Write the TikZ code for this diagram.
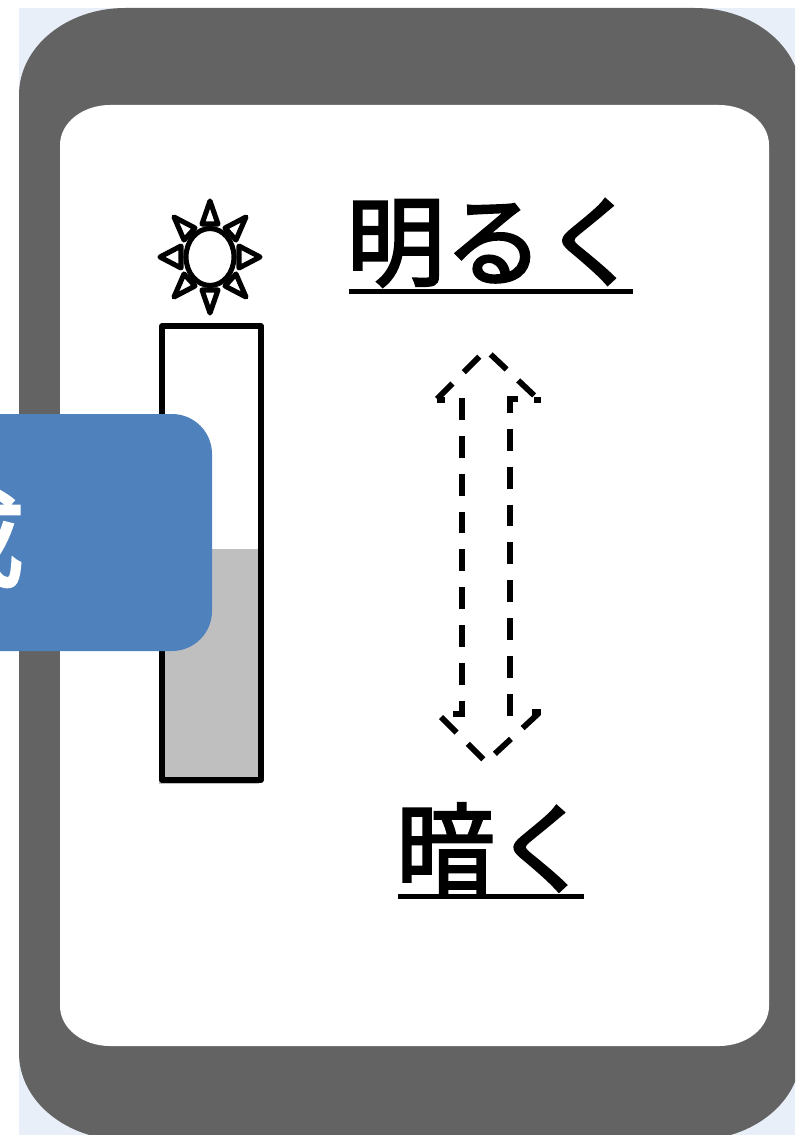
\documentclass[tikz,border=0pt]{standalone}
\usepackage{fontspec}
\newfontfamily\jpfont[FakeBold=2.6]{Noto Sans CJK JP}
\usepackage{tikz}
\definecolor{casegray}{HTML}{636364}
\definecolor{backblue}{HTML}{E9EFF8}
\definecolor{panelblue}{HTML}{4F81BD}
\definecolor{levelgray}{HTML}{BFBFBF}
\tikzset{
    caption/.style={font=\jpfont\fontsize{56}{64}\selectfont, inner sep=0pt, minimum height=1.92cm},
    under/.style={line width=2.9pt, shorten <=1.5pt, shorten >=5.1pt},
    outline/.style={line width=3.1pt, line join=round},
    ray/.style={line width=2.9pt, line join=round},
    dashline/.style={line width=3.3pt, dash pattern=on 22*0.567pt off 16*0.567pt}
}
\begin{document}
\begin{tikzpicture}[x=0.02cm,y=-0.02cm]
    \clip (0,0) rectangle (795,1135);

    % Background
    \fill[backblue] (19,8) rectangle (795,1135);

    % Phone body
    \fill[casegray] (19,95) arc[start angle=180,end angle=270,x radius=106,y radius=87]
        -- (695,8) arc[start angle=270,end angle=360,x radius=106,y radius=87]
        -- (801,1053) arc[start angle=0,end angle=90,x radius=106,y radius=87]
        -- (125,1140) arc[start angle=90,end angle=180,x radius=106,y radius=87] -- cycle;

    % Screen
    \fill[white] (60,145) arc[start angle=180,end angle=270,x radius=50,y radius=40]
        -- (719,105) arc[start angle=270,end angle=360,x radius=50,y radius=40]
        -- (769,1006) arc[start angle=0,end angle=90,x radius=50,y radius=40]
        -- (110,1046) arc[start angle=90,end angle=180,x radius=50,y radius=40] -- cycle;

    % Level bar
    \fill[levelgray] (159,549) rectangle (259,784);
    \draw[outline] (162,326) rectangle (261,780);

    % Sun
    \draw[ray] (210,257) ellipse[x radius=24,y radius=28.5];
    \foreach \dx/\dy in {0/-1,0/1,-1/0,1/0}
        \draw[ray] ({210+\dx*50},{257+\dy*56}) -- ({210+\dx*29-\dy*8},{257+\dy*33+\dx*11})
            -- ({210+\dx*29+\dy*8},{257+\dy*33-\dx*11}) -- cycle;
    \foreach \dx/\dy in {1/-1,1/1,-1/-1,-1/1}
        \draw[ray] ({210+\dx*36},{257+\dy*40}) -- ({210+\dx*15},{257+\dy*29})
            -- ({210+\dx*26},{257+\dy*17}) -- cycle;

    % Double arrow
    \draw[dashline] (437,399) -- (486,350) -- (540,401);
    \draw[dashline] (462,398) -- (462,714) -- (440,714);
    \draw[dashline] (518,399) -- (510,399) -- (510,716);
    \draw[dashline] (441,717) -- (486,762) -- (540,712);
    \draw[line width=3.3pt] (437,400) -- (445,400) (534,400) -- (541,400) (532,712) -- (541,712);

    % Captions
    \node[caption] (bright) at (494,243) {明るく};
    \draw[under] (bright.south west) -- (bright.south east);
    \node[caption] (dark) at (494.5,848) {暗く};
    \draw[under] (dark.south west) -- (dark.south east);

    % Panel
    \fill[panelblue] (-60,414) -- (172,414) arc[start angle=270,end angle=360,radius=40]
        -- (212,611) arc[start angle=0,end angle=90,radius=40] -- (-60,651) -- cycle;
    \node[text=white, font=\jpfont\fontsize{62}{72}\selectfont] (panel) at (-30,538) {成};
\end{tikzpicture}
\end{document}
